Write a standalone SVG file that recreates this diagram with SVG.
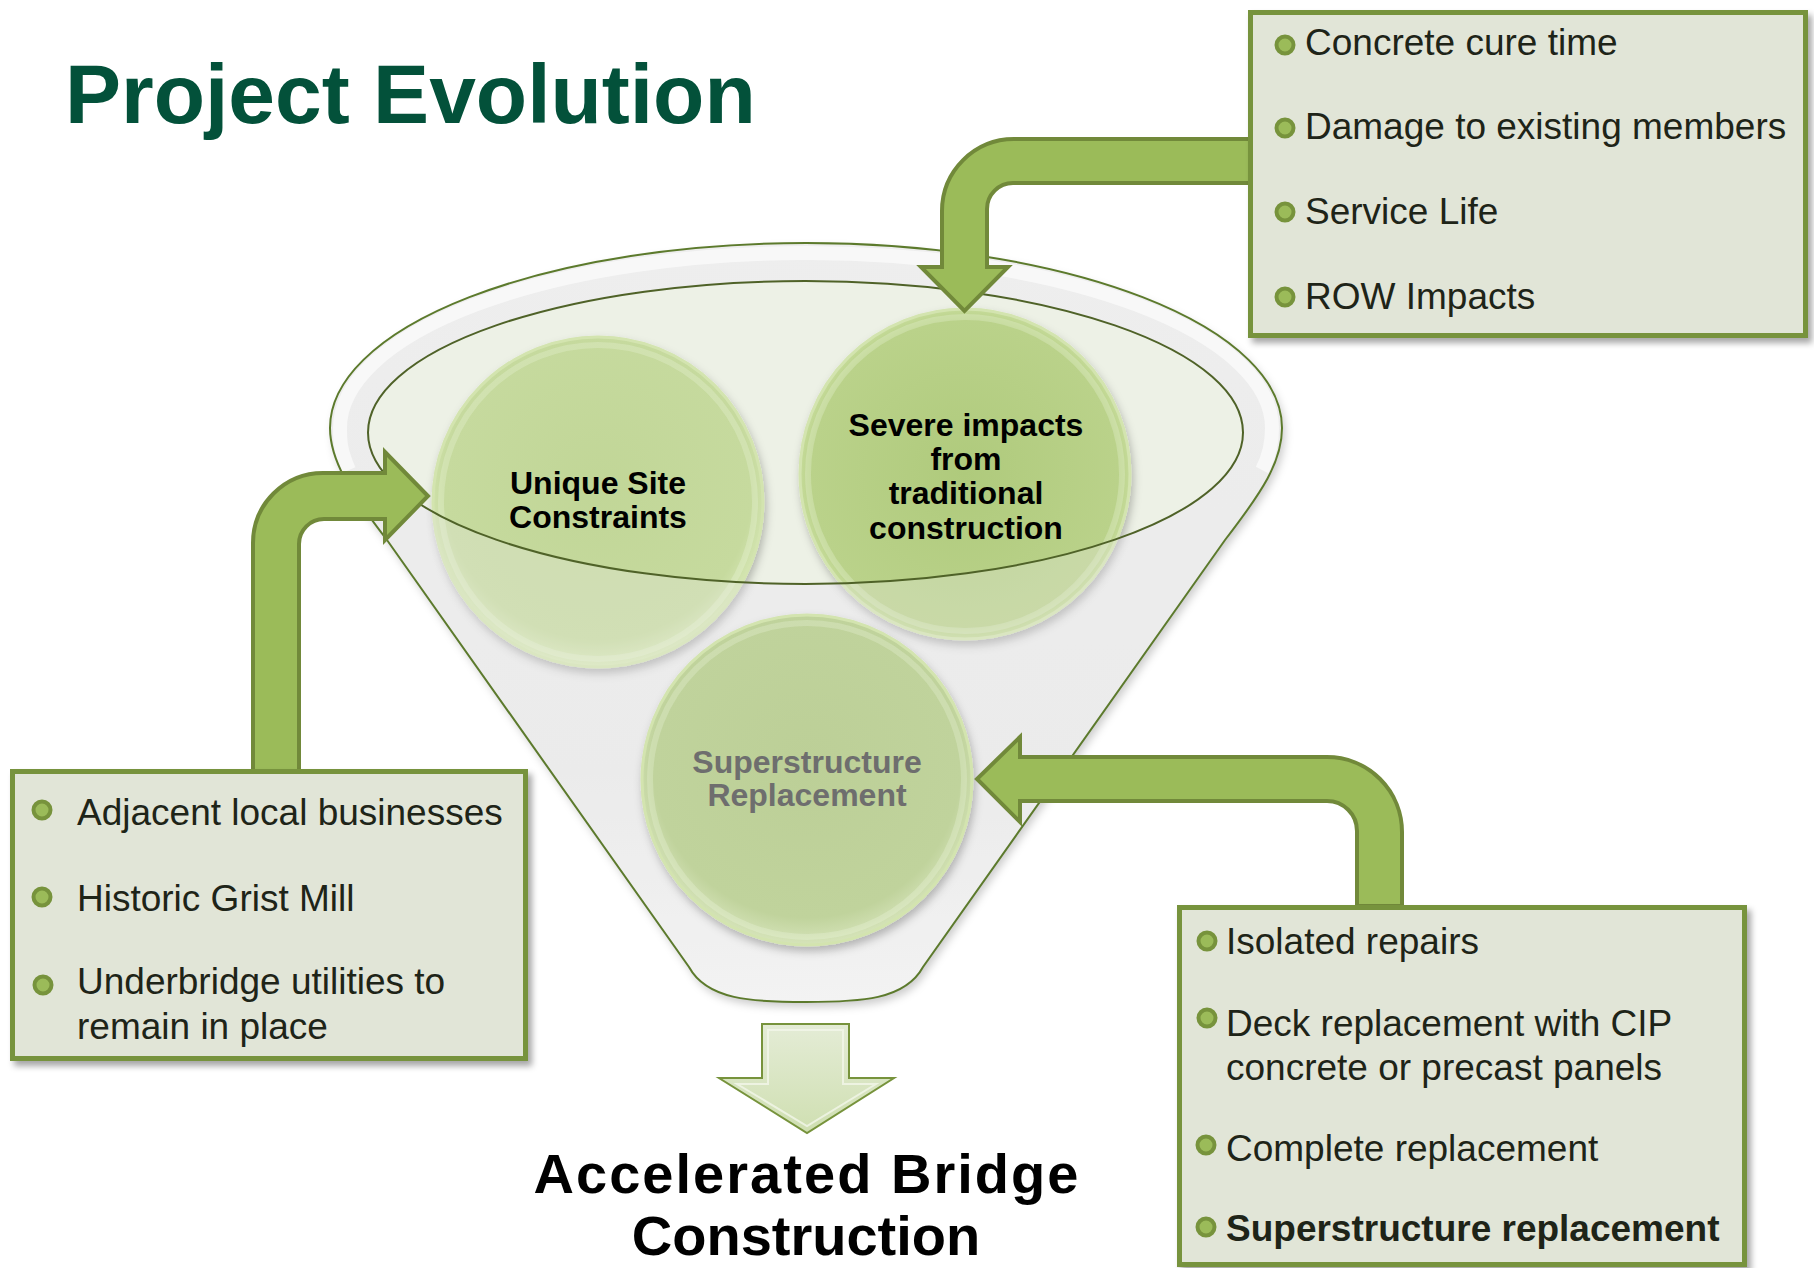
<svg xmlns="http://www.w3.org/2000/svg" width="1814" height="1268" viewBox="0 0 1814 1268">
<defs>
<style>
.box{fill:#E1E5D7;stroke:#77933C;stroke-width:5;filter:url(#sh)}
.arr{fill:#9BBB59;stroke:#71893A;stroke-width:4;stroke-linejoin:miter}
.bul{fill:#9BBB59;stroke:#77933C;stroke-width:4}
.t{font-family:"Liberation Sans",Arial,sans-serif;font-size:37px;fill:#1E2418}
.ct{font-family:"Liberation Sans",Arial,sans-serif;font-size:32px;font-weight:bold;fill:#000;text-anchor:middle}
.rt{font-family:"Liberation Sans",Arial,sans-serif;font-size:56px;font-weight:bold;fill:#000;text-anchor:middle}
.circ{stroke:#D3E4AF;stroke-width:3;filter:url(#csh)}
.hl{fill:none;stroke:#F4FAE6;stroke-opacity:0.25;stroke-width:6}
</style>
<filter id="sh" x="-10%" y="-10%" width="125%" height="125%">
<feDropShadow dx="4" dy="5" stdDeviation="3" flood-color="#000" flood-opacity="0.35"/>
</filter>
<filter id="csh" x="-20%" y="-20%" width="140%" height="140%">
<feDropShadow dx="2" dy="5" stdDeviation="4" flood-color="#000" flood-opacity="0.25"/>
</filter>
<filter id="fsh" x="-10%" y="-10%" width="120%" height="120%">
<feDropShadow dx="3" dy="5" stdDeviation="4" flood-color="#000" flood-opacity="0.2"/>
</filter>
<radialGradient id="g1" cx="50%" cy="45%" r="55%">
<stop offset="0" stop-color="#C1D697"/>
<stop offset="0.85" stop-color="#C6DA9E"/>
<stop offset="1" stop-color="#D9E9B9"/>
</radialGradient>
<radialGradient id="g2" cx="50%" cy="50%" r="55%">
<stop offset="0" stop-color="#AFCA7C"/>
<stop offset="0.85" stop-color="#BAD28A"/>
<stop offset="1" stop-color="#D6E8B0"/>
</radialGradient>
<radialGradient id="g3" cx="50%" cy="45%" r="55%">
<stop offset="0" stop-color="#BCCF97"/>
<stop offset="0.85" stop-color="#C0D39C"/>
<stop offset="1" stop-color="#D6E4BA"/>
</radialGradient>
<linearGradient id="body" x1="0" y1="0" x2="0" y2="1">
<stop offset="0" stop-color="#EFEFEF"/>
<stop offset="0.7" stop-color="#EBEBEB"/>
<stop offset="1" stop-color="#F6F6F6"/>
</linearGradient>
<linearGradient id="dn" x1="0" y1="0" x2="0" y2="1">
<stop offset="0" stop-color="#E4ECD6"/>
<stop offset="1" stop-color="#CFDFB1"/>
</linearGradient>
</defs>
<rect width="1814" height="1268" fill="#FFFFFF"/>

<g id="title">
<text x="65" y="123" font-family="'Liberation Sans',Arial,sans-serif" font-size="84" font-weight="bold" fill="#03513A">Project Evolution</text>
</g>

<g id="funnel">
<path d="M 689 967 L 387 540 C 350 492 330 460 330 428 A 476 185 0 0 1 1282 428 C 1282 462 1262 492 1225 540 L 923 967 C 905 1000 860 1002 806 1002 C 752 1002 707 1000 689 967 Z" fill="url(#body)" filter="url(#fsh)"/>
<path d="M 349 470 C 340 450 340 440 340 428 A 466 175 0 0 1 1272 428 C 1272 440 1270 455 1262 470" fill="none" stroke="#FFFFFF" stroke-width="14" stroke-opacity="0.9"/>
<ellipse cx="805.5" cy="432.5" rx="437.5" ry="151.5" fill="#EDF1E6"/>
</g>

<g id="node-unique">
<circle class="circ" cx="598" cy="502" r="165" fill="url(#g1)"/>
<circle class="hl" cx="598" cy="502" r="157"/>
</g>
<g id="node-severe">
<circle class="circ" cx="965" cy="474" r="165" fill="url(#g2)"/>
<circle class="hl" cx="965" cy="474" r="157"/>
</g>

<g id="funnel-front">
<path d="M 689 967 L 387 540 C 350 492 330 460 330 428 A 476 185 0 0 1 1282 428 C 1282 462 1262 492 1225 540 L 923 967 C 905 1000 860 1002 806 1002 C 752 1002 707 1000 689 967 Z M 368 432.5 A 437.5 151.5 0 0 0 1243 432.5 A 437.5 151.5 0 0 0 368 432.5 Z" fill="#EAEAEA" fill-opacity="0.3" fill-rule="evenodd"/>
<ellipse cx="805.5" cy="432.5" rx="437.5" ry="151.5" fill="none" stroke="#4F6228" stroke-width="2"/>
<path d="M 689 967 L 387 540 C 350 492 330 460 330 428 A 476 185 0 0 1 1282 428 C 1282 462 1262 492 1225 540 L 923 967 C 905 1000 860 1002 806 1002 C 752 1002 707 1000 689 967 Z" fill="none" stroke="#5C7A2C" stroke-width="2"/>
</g>

<g id="node-super">
<circle class="circ" cx="807" cy="780" r="165" fill="url(#g3)"/>
<circle class="hl" cx="807" cy="780" r="157"/>
</g>

<g id="connectors">
<path class="arr" d="M 1250 139 L 1014 139 A 72 72 0 0 0 942 211 L 942 267 L 921 267 L 964.5 311 L 1008 267 L 987 267 L 987 209 A 26 26 0 0 1 1013 183 L 1250 183 Z"/>
<path class="arr" d="M 253 771 L 253 543 A 70 70 0 0 1 323 473 L 385 473 L 385 452 L 428 496 L 385 540 L 385 519 L 324 519 A 25 25 0 0 0 299 544 L 299 771 Z"/>
<path class="arr" d="M 1402 906 L 1402 832 A 75 75 0 0 0 1327 757 L 1020 757 L 1020 737 L 977 779 L 1020 822 L 1020 801 L 1327 801 A 30 30 0 0 1 1357 831 L 1357 906 Z"/>
<path d="M 762 1024 L 849 1024 L 849 1078 L 894 1078 L 807 1133 L 719 1078 L 762 1078 Z" fill="url(#dn)" stroke="#77933C" stroke-width="2"/>
<path d="M 768 1030 L 843 1030 L 843 1084 L 876 1084 L 807 1126 L 737 1084 L 768 1084 Z" fill="none" stroke="#F2F6EA" stroke-width="2" stroke-opacity="0.8"/>
</g>

<g id="circle-labels">
<text class="ct" x="598" y="494">Unique Site</text>
<text class="ct" x="598" y="528">Constraints</text>
<text class="ct" x="966" y="436">Severe impacts</text>
<text class="ct" x="966" y="470">from</text>
<text class="ct" x="966" y="504">traditional</text>
<text class="ct" x="966" y="539">construction</text>
<text class="ct" x="807" y="773" style="fill:#6E6E6E">Superstructure</text>
<text class="ct" x="807" y="806" style="fill:#6E6E6E">Replacement</text>
</g>

<g id="box-top-right">
<rect class="box" x="1250.5" y="12.5" width="555" height="323"/>
<circle class="bul" cx="1285" cy="45" r="8.5"/>
<circle class="bul" cx="1285" cy="128" r="8.5"/>
<circle class="bul" cx="1285" cy="212" r="8.5"/>
<circle class="bul" cx="1285" cy="297" r="8.5"/>
<text class="t" x="1305" y="55">Concrete cure time</text>
<text class="t" x="1305" y="139">Damage to existing members</text>
<text class="t" x="1305" y="224">Service Life</text>
<text class="t" x="1305" y="309">ROW Impacts</text>
</g>

<g id="box-left">
<rect class="box" x="12.5" y="771.5" width="513" height="287"/>
<circle class="bul" cx="42" cy="810" r="8.5"/>
<circle class="bul" cx="42" cy="897" r="8.5"/>
<circle class="bul" cx="43" cy="985" r="8.5"/>
<text class="t" x="77" y="825">Adjacent local businesses</text>
<text class="t" x="77" y="911">Historic Grist Mill</text>
<text class="t" x="77" y="994">Underbridge utilities to</text>
<text class="t" x="77" y="1039">remain in place</text>
</g>

<g id="box-bottom-right">
<rect class="box" x="1179.5" y="907.5" width="565" height="357"/>
<circle class="bul" cx="1207" cy="941" r="8.5"/>
<circle class="bul" cx="1207" cy="1018" r="8.5"/>
<circle class="bul" cx="1206" cy="1145" r="8.5"/>
<circle class="bul" cx="1206" cy="1227" r="8.5"/>
<text class="t" x="1226" y="954">Isolated repairs</text>
<text class="t" x="1226" y="1036">Deck replacement with CIP</text>
<text class="t" x="1226" y="1080">concrete or precast panels</text>
<text class="t" x="1226" y="1161">Complete replacement</text>
<text class="t" x="1226" y="1241" font-weight="bold">Superstructure replacement</text>
</g>

<g id="result">
<text class="rt" x="806" y="1193" textLength="545" lengthAdjust="spacing">Accelerated Bridge</text>
<text class="rt" x="806" y="1255">Construction</text>
</g>
</svg>
